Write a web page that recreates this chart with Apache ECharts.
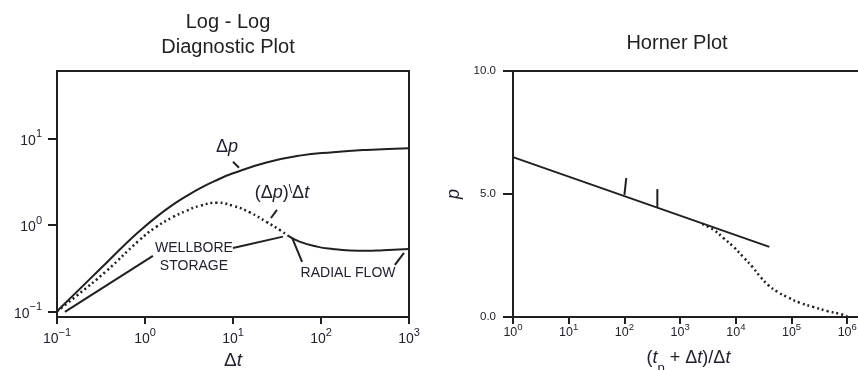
<!DOCTYPE html>
<html>
<head>
<meta charset="utf-8">
<script src="https://cdn.jsdelivr.net/npm/echarts@6/dist/echarts.min.js"></script>
<style>
html,body{margin:0;padding:0;background:#fff;}
#main{width:858px;height:370px;}
</style>
</head>
<body>
<div id="main"></div>
<script>
// ---- log-log diagnostic plot ----
var dtDp = [0.1, 0.231, 0.361, 0.562, 0.855, 1.33, 2.08, 2.92, 4.2, 6.6, 10, 24, 57, 137, 330, 1000];
var dp   = [0.1, 0.231, 0.36, 0.562, 0.838, 1.22, 1.71, 2.13, 2.64, 3.3, 3.94, 5.25, 6.31, 6.92, 7.35, 7.69];
var dtDer = [0.1, 0.164, 0.361, 0.855, 1.33, 2.08, 2.92, 4.2, 6.6, 10, 15.6, 24, 34, 42];
var der   = [0.1, 0.149, 0.29, 0.659, 0.94, 1.23, 1.445, 1.66, 1.8, 1.66, 1.39, 1.08, 0.873, 0.75];
var dtRadial = [42, 57, 90, 137, 214, 330, 507, 1000];
var radial   = [0.75, 0.64, 0.56, 0.525, 0.505, 0.5, 0.508, 0.525];
// leader lines (dt, value pairs)
var wellboreLeader1 = [[0.123, 0.0986], [1.23, 0.438]];
var wellboreLeader2 = [[10, 0.54], [37, 0.73]];
var dpLeader = [[10, 5.35], [11.7, 4.56]];
var derLeader = [[31.6, 1.49], [27, 1.2]];
var radialLeader1 = [[47, 0.707], [61, 0.373]];
var radialLeader2 = [[692, 0.345], [877, 0.475]];
var logLogNotes = [
  [8.55, 7.97, '{n|Δ}{i|p}'],
  [36, 2.34, '{n|(Δ}{i|p}{n|)}{s|\\}{n|Δ}{i|t}'],
  [3.6, 0.427, 'WELLBORE\nSTORAGE'],
  [203, 0.279, 'RADIAL FLOW']
];
var logLogXTicks = [0.1, 1, 10, 100, 1000];
var logLogYTicks = [0.1, 1, 10];

// ---- horner plot ----
var hornerX = [1, 40000];
var hornerP = [6.5, 2.85];
var hornerMark1 = [[100, 4.96], [108, 5.65]];
var hornerMark2 = [[390, 4.47], [390, 5.2]];
var hornerDotX = [2500, 4000, 6000, 9100, 13600, 20000, 27700, 38000, 56000, 84000, 144000, 245000, 440000, 750000, 1000000];
var hornerDotP = [3.78, 3.54, 3.21, 2.85, 2.44, 2.03, 1.63, 1.30, 1.02, 0.81, 0.57, 0.41, 0.24, 0.12, 0.02];
var hornerXTicks = [1, 10, 100, 1000, 10000, 100000, 1000000];

var ink = '#231f20';
var txt = '#22222f';
var font = 'Liberation Sans, Arial, sans-serif';

function zip(xs, ys) {
  return xs.map(function (x, i) { return [x, ys[i]]; });
}
function powLabel(v) {
  var e = Math.round(Math.log10(v));
  return '{b|10}{s|' + (e < 0 ? '\u2212' + (-e) : e) + '}';
}
function line(data, gi, opts) {
  var s = {
    type: 'line', xAxisIndex: gi, yAxisIndex: gi, data: data,
    symbol: 'none', silent: true,
    lineStyle: { color: ink, width: 2 }
  };
  for (var k in opts) s[k] = opts[k];
  return s;
}

var chart = echarts.init(document.getElementById('main'));
var option = {
  animation: false,
  textStyle: { fontFamily: font },
  graphic: [
    { type: 'text', x: 228, y: 22, style: { text: 'Log - Log', font: '20px ' + font, fill: '#222', align: 'center', verticalAlign: 'middle' } },
    { type: 'text', x: 228, y: 47, style: { text: 'Diagnostic Plot', font: '20px ' + font, fill: '#222', align: 'center', verticalAlign: 'middle' } },
    { type: 'text', x: 677, y: 43, style: { text: 'Horner Plot', font: '20px ' + font, fill: '#222', align: 'center', verticalAlign: 'middle' } }
  ],
  grid: [
    { left: 57, top: 71, width: 352, height: 246, show: true, borderColor: ink, borderWidth: 2, containLabel: false, outerBoundsMode: 'none' },
    { left: 513, top: 71, right: -6, height: 246, show: true, borderColor: ink, borderWidth: 2, containLabel: false, outerBoundsMode: 'none' }
  ],
  xAxis: [
    {
      type: 'log', gridIndex: 0, min: 0.1, max: 1000,
      name: '{n|Δ}{i|t}', nameLocation: 'middle', nameGap: 23,
      nameTextStyle: { rich: { n: { fontSize: 19, color: txt }, i: { fontSize: 19, fontStyle: 'italic', color: txt } } },
      axisLine: { lineStyle: { color: ink, width: 2 } },
      axisTick: { length: 7, lineStyle: { color: ink, width: 2 }, customValues: logLogXTicks },
      axisLabel: {
        margin: 10, customValues: logLogXTicks, formatter: powLabel,
        rich: { b: { fontSize: 14, color: txt, verticalAlign: 'bottom', lineHeight: 19 }, s: { fontSize: 11, color: txt, verticalAlign: 'top' } }
      },
      splitLine: { show: false }
    },
    {
      type: 'log', gridIndex: 1, min: 1, max: 2000000,
      name: '{n|(}{i|t}{u|p}{n| + Δ}{i|t}{n|)/Δ}{i|t}', nameLocation: 'middle', nameGap: 32,
      nameTextStyle: { rich: {
        n: { fontSize: 18, color: txt },
        i: { fontSize: 18, fontStyle: 'italic', color: txt },
        u: { fontSize: 13, color: txt, verticalAlign: 'bottom', padding: [0, 0, -8, 0] }
      } },
      axisLine: { lineStyle: { color: ink, width: 2 } },
      axisTick: { length: 7, lineStyle: { color: ink, width: 2 }, customValues: hornerXTicks },
      axisLabel: {
        margin: 5, customValues: hornerXTicks, formatter: powLabel,
        rich: { b: { fontSize: 12.5, color: txt, verticalAlign: 'bottom', lineHeight: 17 }, s: { fontSize: 9.5, color: txt, verticalAlign: 'top' } }
      },
      splitLine: { show: false }
    }
  ],
  yAxis: [
    {
      type: 'log', gridIndex: 0, min: 0.086, max: 60,
      axisLine: { lineStyle: { color: ink, width: 2 } },
      axisTick: { length: 9, lineStyle: { color: ink, width: 2 }, customValues: logLogYTicks },
      axisLabel: {
        margin: 15, customValues: logLogYTicks, formatter: powLabel,
        rich: { b: { fontSize: 14, color: txt, verticalAlign: 'bottom', lineHeight: 19 }, s: { fontSize: 11, color: txt, verticalAlign: 'top' } }
      },
      splitLine: { show: false }
    },
    {
      type: 'value', gridIndex: 1, min: 0, max: 10, interval: 5,
      name: 'p', nameLocation: 'middle', nameGap: 50, nameRotate: 90,
      nameTextStyle: { fontSize: 18, fontStyle: 'italic', color: txt },
      axisLine: { lineStyle: { color: ink, width: 2 } },
      axisTick: { length: 10, lineStyle: { color: ink, width: 2 } },
      axisLabel: { margin: 17, fontSize: 11.5, color: txt, formatter: function (v) { return v.toFixed(1); } },
      splitLine: { show: false }
    }
  ],
  series: [
    line(zip(dtDp, dp), 0, { smooth: 0.5 }),
    line(zip(dtDer, der), 0, { smooth: 0.5, lineStyle: { color: ink, width: 2.5, type: [2, 3] } }),
    line(zip(dtRadial, radial), 0, { smooth: 0.5 }),
    line(wellboreLeader1, 0, {}),
    line(wellboreLeader2, 0, {}),
    line(dpLeader, 0, {}),
    line(derLeader, 0, {}),
    line(radialLeader1, 0, {}),
    line(radialLeader2, 0, {}),
    {
      type: 'scatter', xAxisIndex: 0, yAxisIndex: 0, silent: true,
      data: logLogNotes, symbolSize: 2, itemStyle: { color: 'rgba(0,0,0,0)', opacity: 1 },
      label: {
        show: true, position: 'inside', color: txt, opacity: 1, fontSize: 14, lineHeight: 18, align: 'center',
        formatter: function (p) { return p.data[2]; },
        rich: {
          n: { fontSize: 18, color: txt },
          i: { fontSize: 18, fontStyle: 'italic', color: txt },
          s: { fontSize: 12, color: txt, verticalAlign: 'top' }
        }
      }
    },
    line(zip(hornerX, hornerP), 1, {}),
    line(hornerMark1, 1, {}),
    line(hornerMark2, 1, {}),
    line(zip(hornerDotX, hornerDotP), 1, { smooth: 0.4, lineStyle: { color: ink, width: 2.5, type: [2, 3] } })
  ]
};
chart.setOption(option);
</script>
</body>
</html>
